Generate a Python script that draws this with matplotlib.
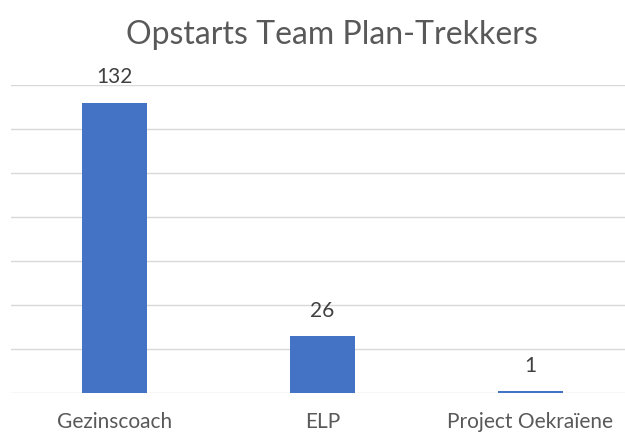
import matplotlib.pyplot as plt
import numpy as np

plt.rcParams['font.family'] = ['Lato', 'DejaVu Sans']

categories = ['Gezinscoach', 'ELP', 'Project Oekraïene']
counts = [132, 26, 1]
title = 'Opstarts Team Plan-Trekkers'

fig = plt.figure(figsize=(6.25, 4.34), dpi=100)
ax = fig.add_axes([11 / 625, 1 - 393 / 434, 1 - 11 / 625, (393 - 85) / 434])

x = np.arange(len(categories))
bars = ax.bar(x, counts, width=0.313, color='#4472C4', zorder=3)

ax.set_ylim(0, 140)
ax.set_xlim(-0.5, 2.5 - 9 / 207.7)
ax.set_yticks(np.arange(0, 141, 20))
ax.yaxis.grid(True, color='#D9D9D9', linewidth=1.0, zorder=0)
ax.tick_params(axis='y', left=False, labelleft=False)
ax.tick_params(axis='x', bottom=False, pad=10, labelsize=15, labelcolor='#595959')
ax.set_xticks(x)
ax.set_xticklabels(categories)
for s in ['top', 'right', 'left', 'bottom']:
    ax.spines[s].set_visible(False)

for b, v in zip(bars, counts):
    ax.annotate(str(v), (b.get_x() + b.get_width() / 2, v), xytext=(0, 11),
                textcoords='offset points', ha='center', va='bottom',
                fontsize=15, color='#404040')

fig.text(332 / 625, 1 - 35 / 434, title, ha='center', va='center',
         fontsize=23, color='#595959')

fig.savefig('out.png', dpi=100)
